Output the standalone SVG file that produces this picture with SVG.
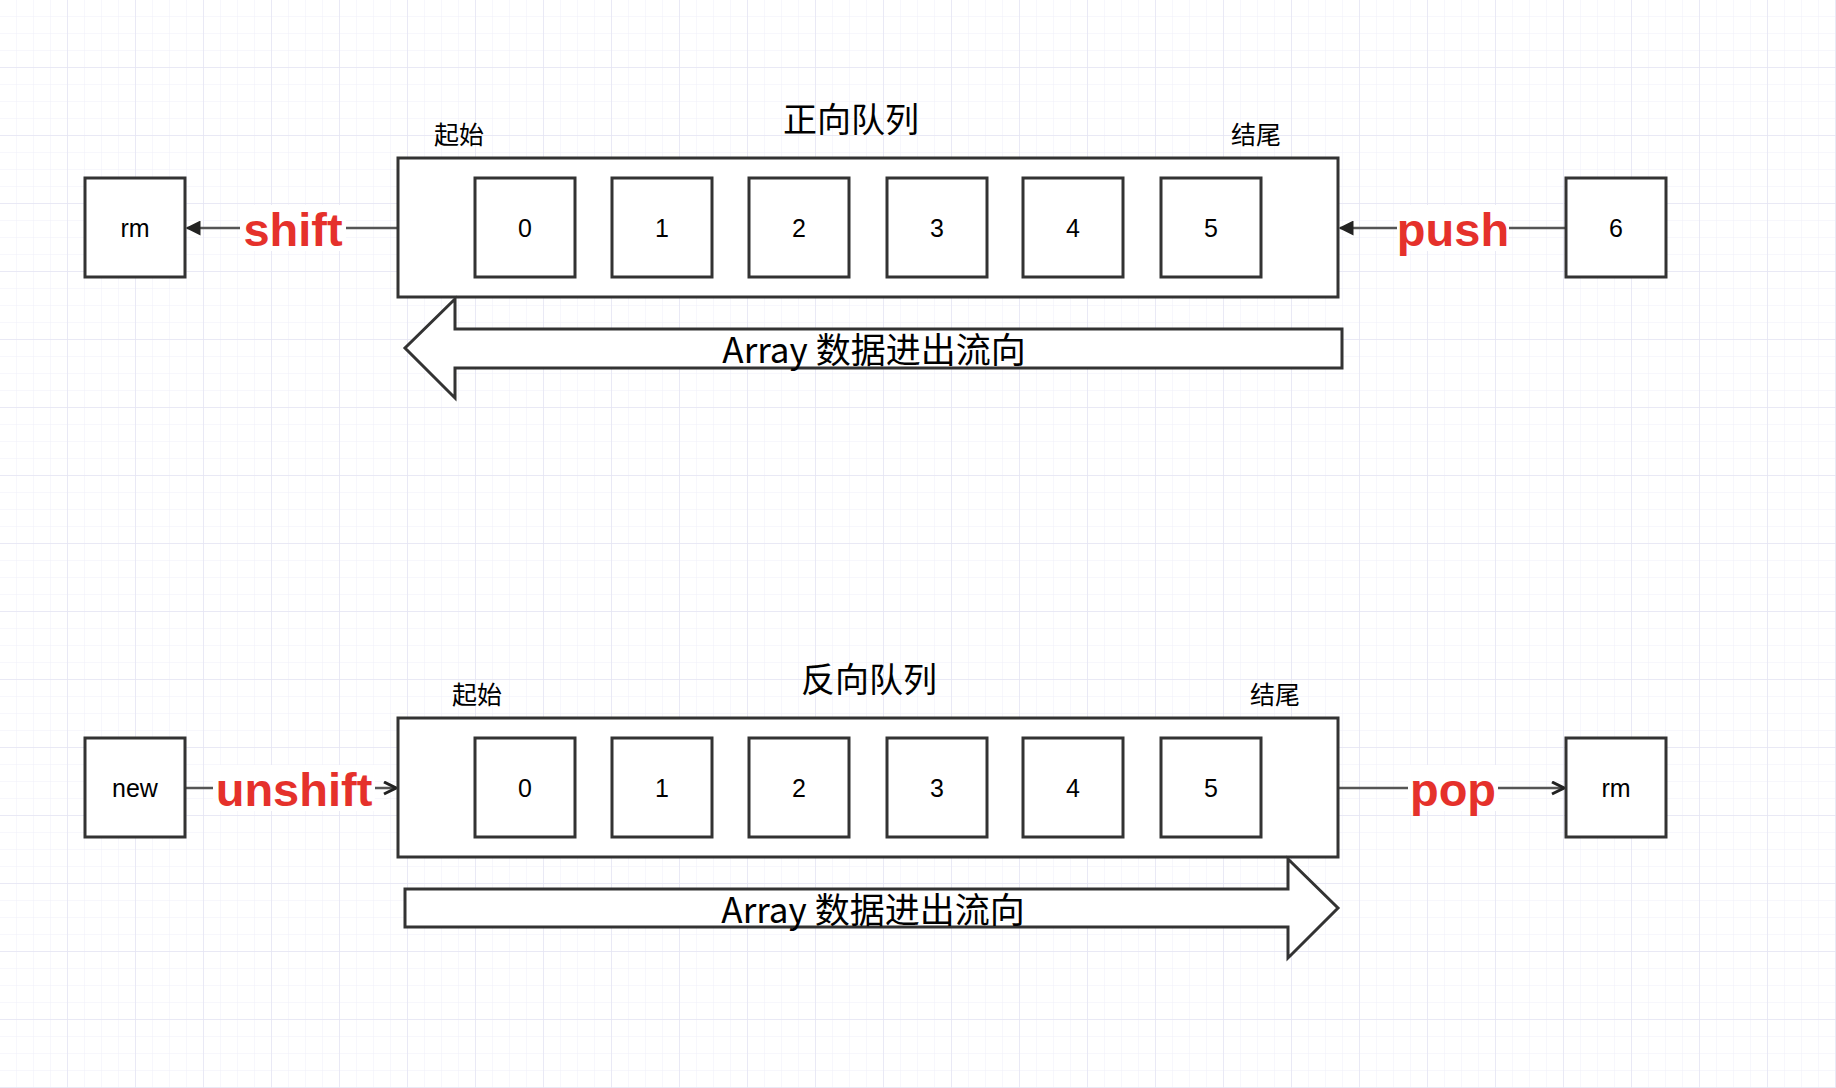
<svg xmlns="http://www.w3.org/2000/svg" width="1836" height="1088" viewBox="0 0 1836 1088">
<defs>
<pattern id="minor" width="17" height="17" patternUnits="userSpaceOnUse"><path d="M17 0V17H0" fill="none" stroke="#efeff9" stroke-width="1"/></pattern>
<pattern id="major" width="68" height="68" patternUnits="userSpaceOnUse"><rect width="68" height="68" fill="url(#minor)"/><path d="M68 0V68H0" fill="none" stroke="#e4e4f3" stroke-width="1.5"/></pattern>
<marker id="tri" viewBox="0 0 10 10" refX="9" refY="5" markerWidth="6" markerHeight="6" orient="auto"><path d="M0 0L10 5L0 10z" fill="#222"/></marker>
<marker id="open" viewBox="0 0 10 10" refX="9" refY="5" markerWidth="6" markerHeight="6" orient="auto"><path d="M1 1L9 5L1 9" fill="none" stroke="#222" stroke-width="2"/></marker>
</defs>
<style>
.box{fill:#fff;stroke:#333;stroke-width:3}
.t{font-family:"Liberation Sans",Arial,sans-serif;font-size:25px;fill:#000;text-anchor:middle;dominant-baseline:central}
.c{font-family:"Noto Sans CJK SC","Liberation Sans",sans-serif;fill:#000;text-anchor:middle;dominant-baseline:central}
.op{font-family:"Liberation Sans",Arial,sans-serif;font-size:47px;font-weight:bold;fill:#e5312b;text-anchor:middle;dominant-baseline:central}
.ln{stroke:#555;stroke-width:2.5;fill:none}
</style>
<rect width="1836" height="1088" fill="#fff"/>
<rect width="1836" height="1088" fill="url(#major)"/>

<g id="connectors">
<line class="ln" x1="398" y1="228" x2="187" y2="228" marker-end="url(#tri)"/>
<line class="ln" x1="1566" y1="228" x2="1340" y2="228" marker-end="url(#tri)"/>
<line class="ln" x1="185" y1="788" x2="396" y2="788" marker-end="url(#open)"/>
<line class="ln" x1="1338" y1="788" x2="1564" y2="788" marker-end="url(#open)"/>
<rect x="240" y="205" width="106" height="46" fill="#fff"/>
<text class="op" x="293" y="229">shift</text>
<rect x="1397" y="205" width="112" height="46" fill="#fff"/>
<text class="op" x="1453" y="229">push</text>
<rect x="213" y="765" width="162" height="46" fill="#fff"/>
<text class="op" x="294" y="789">unshift</text>
<rect x="1408" y="765" width="90" height="46" fill="#fff"/>
<text class="op" x="1453" y="789">pop</text>
</g>

<g id="top-queue">
<text class="c" x="851" y="117" font-size="34">正向队列</text>
<text class="c" x="459" y="133" font-size="25">起始</text>
<text class="c" x="1256" y="133" font-size="25">结尾</text>
<rect class="box" x="398" y="158" width="940" height="139"/>
<g id="t0"><rect class="box" x="475" y="178" width="100" height="99"/><text class="t" x="525" y="228">0</text></g>
<g id="t1"><rect class="box" x="612" y="178" width="100" height="99"/><text class="t" x="662" y="228">1</text></g>
<g id="t2"><rect class="box" x="749" y="178" width="100" height="99"/><text class="t" x="799" y="228">2</text></g>
<g id="t3"><rect class="box" x="887" y="178" width="100" height="99"/><text class="t" x="937" y="228">3</text></g>
<g id="t4"><rect class="box" x="1023" y="178" width="100" height="99"/><text class="t" x="1073" y="228">4</text></g>
<g id="t5"><rect class="box" x="1161" y="178" width="100" height="99"/><text class="t" x="1211" y="228">5</text></g>
</g>
<g id="top-rm"><rect class="box" x="85" y="178" width="100" height="99"/><text class="t" x="135" y="228">rm</text></g>
<g id="top-6"><rect class="box" x="1566" y="178" width="100" height="99"/><text class="t" x="1616" y="228">6</text></g>
<g id="top-flow">
<path class="box" d="M1342 329H455V299L405 348L455 398V368H1342Z"/>
<text class="c" x="874" y="347" font-size="35">Array 数据进出流向</text>
</g>

<g id="bottom-queue">
<text class="c" x="869" y="677" font-size="34">反向队列</text>
<text class="c" x="477" y="693" font-size="25">起始</text>
<text class="c" x="1275" y="693" font-size="25">结尾</text>
<rect class="box" x="398" y="718" width="940" height="139"/>
<g id="b0"><rect class="box" x="475" y="738" width="100" height="99"/><text class="t" x="525" y="788">0</text></g>
<g id="b1"><rect class="box" x="612" y="738" width="100" height="99"/><text class="t" x="662" y="788">1</text></g>
<g id="b2"><rect class="box" x="749" y="738" width="100" height="99"/><text class="t" x="799" y="788">2</text></g>
<g id="b3"><rect class="box" x="887" y="738" width="100" height="99"/><text class="t" x="937" y="788">3</text></g>
<g id="b4"><rect class="box" x="1023" y="738" width="100" height="99"/><text class="t" x="1073" y="788">4</text></g>
<g id="b5"><rect class="box" x="1161" y="738" width="100" height="99"/><text class="t" x="1211" y="788">5</text></g>
</g>
<g id="bottom-new"><rect class="box" x="85" y="738" width="100" height="99"/><text class="t" x="135" y="788">new</text></g>
<g id="bottom-rm"><rect class="box" x="1566" y="738" width="100" height="99"/><text class="t" x="1616" y="788">rm</text></g>
<g id="bottom-flow">
<path class="box" d="M405 889H1288V859L1338 908L1288 958V927H405Z"/>
<text class="c" x="873" y="907" font-size="35">Array 数据进出流向</text>
</g>
</svg>
